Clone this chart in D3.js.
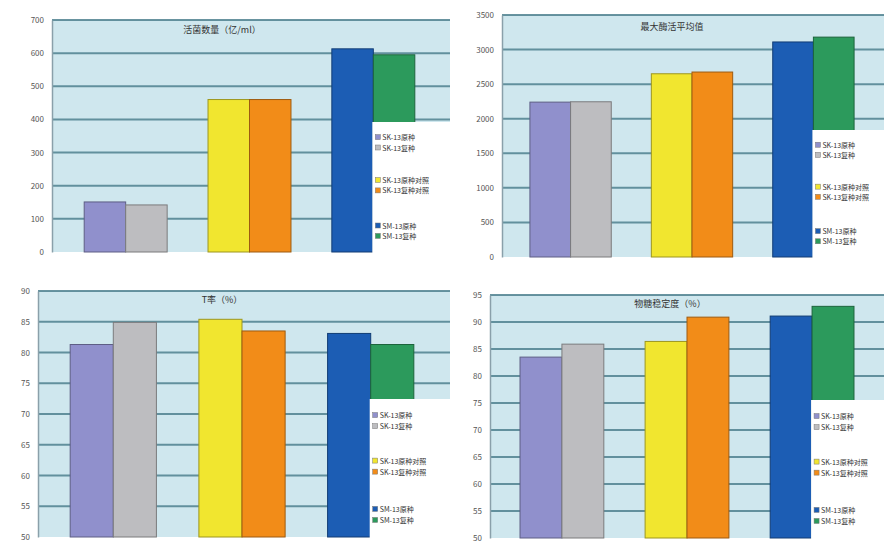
<!DOCTYPE html>
<html><head><meta charset="utf-8">
<script src="https://cdn.jsdelivr.net/npm/d3@7/dist/d3.min.js"></script>
<style>
html,body{margin:0;padding:0;background:#fff;}
svg{display:block;}
text{font-family:"Noto Sans CJK SC","Noto Sans",sans-serif;}
</style></head>
<body>
<svg id="c" width="884" height="547"></svg>
<script>
// ---- data ----
const groups = ["G1", "G2", "G3"];
const seriesNames = ["SK-13原种", "SK-13复种", "SK-13原种对照", "SK-13复种对照", "SM-13原种", "SM-13复种"];
const barColors = ["#9090cc", "#bdbdc0", "#f1e62f", "#f28c18", "#1c5db4", "#2c9a5c"];
const titles = ["活菌数量（亿/ml）", "最大酶活平均值", "T率（%）", "物糖稳定度（%）"];
const tlValues = [[151, 142], [460, 460], [613, 595]];
const trValues = [[2240, 2245], [2650, 2675], [3110, 3180]];
const blValues = [[81.3, 84.9], [85.4, 83.5], [83.1, 81.3]];
const brValues = [[83.5, 85.9], [86.4, 90.9], [91.1, 92.9]];
const tlTicks = [0, 100, 200, 300, 400, 500, 600, 700];
const trTicks = [0, 500, 1000, 1500, 2000, 2500, 3000, 3500];
const blTicks = [50, 55, 60, 65, 70, 75, 80, 85, 90];
const brTicks = [50, 55, 60, 65, 70, 75, 80, 85, 90, 95];

// ---- layout ----
const panels = [
  {values: tlValues, ticks: tlTicks, title: titles[0], l: 52, r: 447, t: 20, b: 252, po: 0.26, legTop: 122, legRight: 450, titleX: 222, titleY: 33},
  {values: trValues, ticks: trTicks, title: titles[1], l: 502, r: 882, t: 15, b: 257, po: 0.23, legTop: 130, legRight: 884, titleX: 672, titleY: 30},
  {values: blValues, ticks: blTicks, title: titles[2], l: 38, r: 446, t: 291, b: 537, po: 0.25, legTop: 399, legRight: 450, titleX: 222, titleY: 303},
  {values: brValues, ticks: brTicks, title: titles[3], l: 490, r: 884, t: 295, b: 538, po: 0.24, legTop: 400, legRight: 884, titleX: 670, titleY: 307}
];

const svg = d3.select("#c");

panels.forEach(p => {
  const g = svg.append("g");
  const y = d3.scaleLinear().domain(d3.extent(p.ticks)).range([p.b, p.t]);
  const x = d3.scaleBand().domain(groups).range([p.l, p.r]).paddingInner(0.33).paddingOuter(p.po);
  const xs = d3.scaleBand().domain([0, 1]).range([0, x.bandwidth()]);

  // plot background
  g.append("rect").attr("x", p.l).attr("y", p.t).attr("width", p.legRight - p.l).attr("height", p.b - p.t)
    .attr("fill", "#cfe7ee");

  // gridlines
  g.selectAll(".grid").data(p.ticks.slice(1)).join("line")
    .attr("x1", p.l).attr("x2", p.legRight)
    .attr("y1", d => y(d)).attr("y2", d => y(d))
    .attr("stroke", "#4f8290").attr("stroke-width", 2).attr("opacity", 0.85);

  // axis
  const ax = g.append("g").attr("transform", `translate(${p.l},0)`)
    .call(d3.axisLeft(y).tickValues(p.ticks).tickFormat(d3.format("d")).tickSize(0).tickPadding(8));
  ax.select(".domain").attr("stroke", "#8aa0aa").attr("stroke-width", 1.5);
  ax.selectAll("text").attr("font-size", 8).attr("fill", "#555");

  // bars
  p.values.forEach((pair, gi) => {
    pair.forEach((v, si) => {
      const c = barColors[gi * 2 + si];
      g.append("rect")
        .attr("x", x(groups[gi]) + xs(si))
        .attr("y", y(v))
        .attr("width", xs.bandwidth())
        .attr("height", p.b - y(v))
        .attr("fill", c)
        .attr("stroke", d3.color(c).darker(1.2))
        .attr("stroke-width", 1);
    });
  });

  // title
  g.append("text").attr("x", p.titleX).attr("y", p.titleY).attr("text-anchor", "middle")
    .attr("font-size", 9).attr("fill", "#333").text(p.title);

  // legend
  const lx = x(groups[2]) + x.bandwidth() / 2 - 1;
  const leg = g.append("g");
  leg.append("rect").attr("x", lx).attr("y", p.legTop).attr("width", p.legRight - lx).attr("height", p.b + 3 - p.legTop)
    .attr("fill", "#fff");
  const h = p.b - p.legTop;
  const offs = [0.12, 0.2, 0.45, 0.53, 0.8, 0.88];
  seriesNames.forEach((s, i) => {
    const yy = p.legTop + h * offs[i];
    leg.append("rect").attr("x", lx + 3).attr("y", yy - 3).attr("width", 5).attr("height", 5)
      .attr("fill", barColors[i]).attr("stroke", "#777").attr("stroke-width", 0.5);
    leg.append("text").attr("x", lx + 10).attr("y", yy + 2.5).attr("font-size", 7).attr("fill", "#333").text(s);
  });
});
</script>
</body></html>
